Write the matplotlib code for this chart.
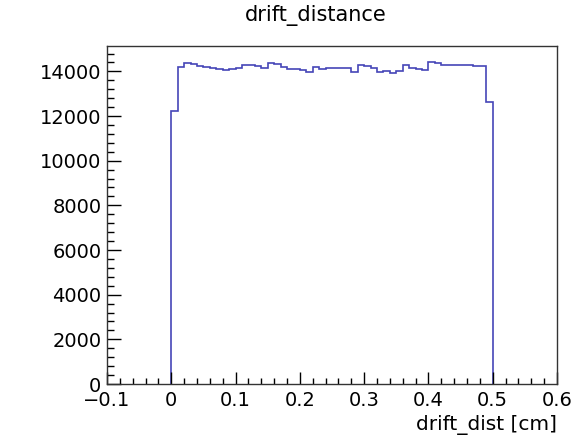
import numpy as np
import matplotlib
matplotlib.use("Agg")
import matplotlib.pyplot as plt
from matplotlib.ticker import MultipleLocator, FuncFormatter

# ---- data ----
title = "drift_distance"
x_label = "drift_dist [cm]"
bin_lo = 0.0
bin_hi = 0.5
n_bins = 50
counts = [
    12230, 14180, 14360, 14330, 14255, 14210, 14150, 14090, 14060, 14120,
    14150, 14286, 14286, 14250, 14150, 14390, 14330, 14210, 14090, 14090,
    14060, 13970, 14210, 14100, 14150, 14140, 14140, 14140, 13960, 14286,
    14240, 14140, 13960, 14020, 13915, 14000, 14286, 14140, 14090, 14060,
    14435, 14360, 14286, 14286, 14286, 14286, 14300, 14240, 14240, 12615,
]
x_range = (-0.1, 0.6)
y_range = (0, 15150)

edges = np.linspace(bin_lo, bin_hi, n_bins + 1)

plt.rcParams['font.family'] = ['DejaVu Sans']
fig = plt.figure(figsize=(5.76, 4.36), dpi=100)
ax = fig.add_axes([107/576, 1 - 384/436, (557 - 107)/576, (384 - 45.7)/436])

ax.stairs(counts, edges, baseline=0, color='#4545b8', linewidth=1.2)

ax.set_xlim(*x_range)
ax.set_ylim(*y_range)

ax.xaxis.set_major_locator(MultipleLocator(0.1))
ax.xaxis.set_minor_locator(MultipleLocator(0.02))
ax.yaxis.set_major_locator(MultipleLocator(2000))
ax.yaxis.set_minor_locator(MultipleLocator(400))

ax.tick_params(which='both', direction='in', top=False, right=False, labelsize=14)
ax.tick_params(axis='y', which='major', length=10, width=1)
ax.tick_params(axis='y', which='minor', length=5, width=1)
ax.tick_params(axis='x', which='major', length=9, width=1)
ax.tick_params(axis='x', which='minor', length=4.5, width=1)
ax.tick_params(axis='x', pad=5)
ax.tick_params(axis='y', pad=4)

ax.xaxis.set_major_formatter(FuncFormatter(
    lambda v, p: ("%g" % round(v, 3)).replace("-", "\u2212") if abs(v) > 1e-9 else "0"))

for s in ax.spines.values():
    s.set_linewidth(1.0)
    s.set_color('#333333')

fig.text(316/576, 1 - 15/436, title, ha='center', va='center', fontsize=15)
ax.set_xlabel(x_label, fontsize=14.5, ha='right', va='top')
ax.xaxis.set_label_coords(1.0, -0.093)

fig.savefig("out.png", dpi=100)
